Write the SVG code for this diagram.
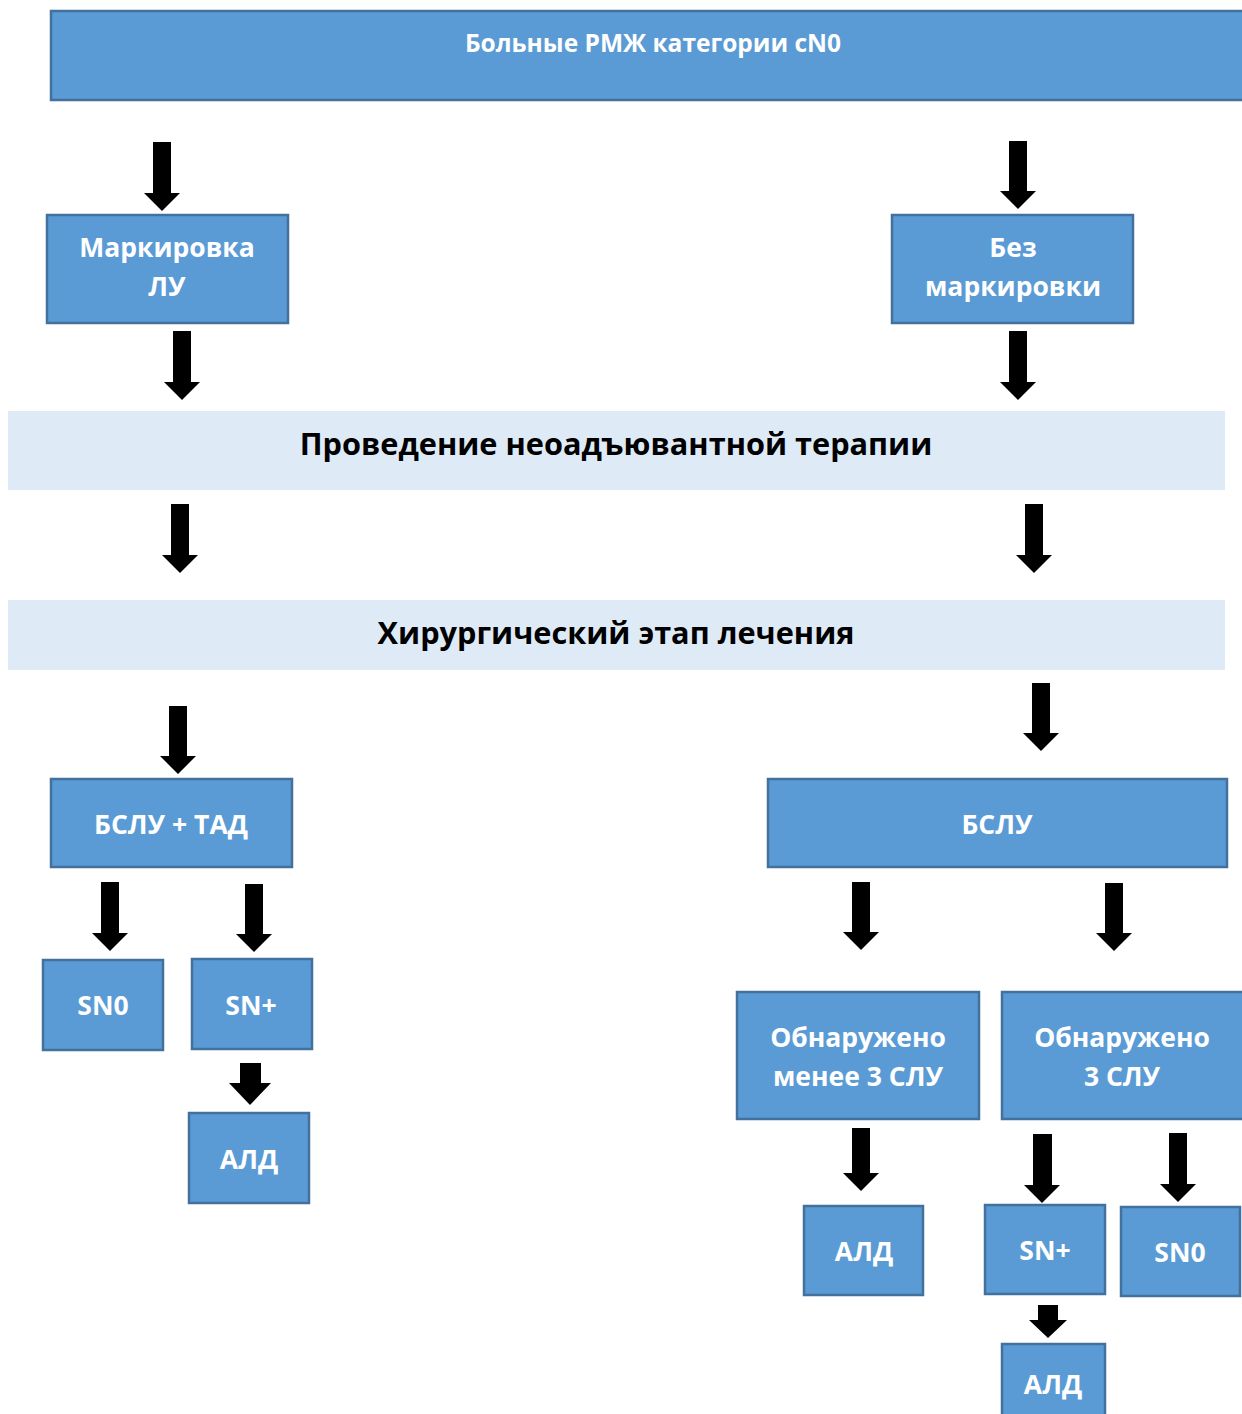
<svg xmlns="http://www.w3.org/2000/svg" xmlns:xlink="http://www.w3.org/1999/xlink" width="1242" height="1414" viewBox="0 0 1242 1414">
<style>
.box{fill:#5B9BD5;stroke:#41719C;stroke-width:2.5}
.band{fill:#DEEBF7}
.t{font-family:"Open Sans","Noto Sans","DejaVu Sans",sans-serif;font-weight:700;fill:#FFFFFF;text-anchor:middle;font-size:26.5px}
.t.top{font-size:24.5px}
.tb{font-family:"Open Sans","Noto Sans","DejaVu Sans",sans-serif;font-weight:700;fill:#000000;text-anchor:middle;font-size:30.7px}
.arr{fill:#000000}
</style>
<rect width="1242" height="1414" fill="#FFFFFF"/>
<g id="connectors">
<polygon class="arr" points="153,142 171,142 171,193 180,193 162,211 144,193 153,193"/>
<polygon class="arr" points="173,331 191,331 191,382 200,382 182,400 164,382 173,382"/>
<polygon class="arr" points="1009,141 1027,141 1027,191 1036,191 1018,209 1000,191 1009,191"/>
<polygon class="arr" points="1009,331 1027,331 1027,382 1036,382 1018,400 1000,382 1009,382"/>
<polygon class="arr" points="171,504 189,504 189,555 198,555 180,573 162,555 171,555"/>
<polygon class="arr" points="1025,504 1043,504 1043,555 1052,555 1034,573 1016,555 1025,555"/>
<polygon class="arr" points="169,706 187,706 187,756 196,756 178,774 160,756 169,756"/>
<polygon class="arr" points="1032,683 1050,683 1050,733 1059,733 1041,751 1023,733 1032,733"/>
<polygon class="arr" points="101,882 119,882 119,933 128,933 110,951 92,933 101,933"/>
<polygon class="arr" points="245,884 263,884 263,934 272,934 254,952 236,934 245,934"/>
<polygon class="arr" points="240,1063 261,1063 261,1083 271,1083 250,1105 229,1083 240,1083"/>
<polygon class="arr" points="852,882 870,882 870,932 879,932 861,950 843,932 852,932"/>
<polygon class="arr" points="1105,883 1123,883 1123,933 1132,933 1114,951 1096,933 1105,933"/>
<polygon class="arr" points="852,1128 870,1128 870,1173 879,1173 861,1191 843,1173 852,1173"/>
<polygon class="arr" points="1033,1134 1052,1134 1052,1185 1060,1185 1042,1203 1024,1185 1033,1185"/>
<polygon class="arr" points="1169,1133 1187,1133 1187,1184 1196,1184 1178,1202 1160,1184 1169,1184"/>
<polygon class="arr" points="1038,1305 1058,1305 1058,1320 1067,1320 1048,1338 1029,1320 1038,1320"/>
</g>
<g id="n-top"><rect class="box" x="51" y="11" width="1200" height="89"/><text class="t top" x="653" y="52">Больные РМЖ категории cN0</text></g>
<g id="n-mark"><rect class="box" x="47" y="215" width="241" height="108"/><text class="t" x="167" y="257">Маркировка</text><text class="t" x="167" y="296">ЛУ</text></g>
<g id="n-nomark"><rect class="box" x="892" y="215" width="241" height="108"/><text class="t" x="1013" y="257">Без</text><text class="t" x="1013" y="296">маркировки</text></g>
<g id="n-neo"><rect class="band" x="8" y="411" width="1217" height="79"/><text class="tb" x="616" y="455">Проведение неоадъювантной терапии</text></g>
<g id="n-surg"><rect class="band" x="8" y="600" width="1217" height="70"/><text class="tb" x="616" y="644">Хирургический этап лечения</text></g>
<g id="n-bsluTad"><rect class="box" x="51" y="779" width="241" height="88"/><text class="t" x="171" y="834">БСЛУ + ТАД</text></g>
<g id="n-bslu"><rect class="box" x="768" y="779" width="459" height="88"/><text class="t" x="997" y="834">БСЛУ</text></g>
<g id="n-sn0-l"><rect class="box" x="43" y="960" width="120" height="90"/><text class="t" x="103" y="1015">SN0</text></g>
<g id="n-snp-l"><rect class="box" x="192" y="959" width="120" height="90"/><text class="t" x="251" y="1015">SN+</text></g>
<g id="n-ald-l"><rect class="box" x="189" y="1113" width="120" height="90"/><text class="t" x="249" y="1169">АЛД</text></g>
<g id="n-less3"><rect class="box" x="737" y="992" width="242" height="127"/><text class="t" x="858" y="1047">Обнаружено</text><text class="t" x="858" y="1086">менее 3 СЛУ</text></g>
<g id="n-3"><rect class="box" x="1002" y="992" width="250" height="127"/><text class="t" x="1122" y="1047">Обнаружено</text><text class="t" x="1122" y="1086">3 СЛУ</text></g>
<g id="n-ald-m"><rect class="box" x="804" y="1206" width="119" height="89"/><text class="t" x="864" y="1261">АЛД</text></g>
<g id="n-snp-r"><rect class="box" x="985" y="1205" width="120" height="89"/><text class="t" x="1045" y="1260">SN+</text></g>
<g id="n-sn0-r"><rect class="box" x="1121" y="1207" width="119" height="89"/><text class="t" x="1180" y="1262">SN0</text></g>
<g id="n-ald-r"><rect class="box" x="1002" y="1344" width="103" height="80"/><text class="t" x="1053" y="1394">АЛД</text></g>
</svg>
